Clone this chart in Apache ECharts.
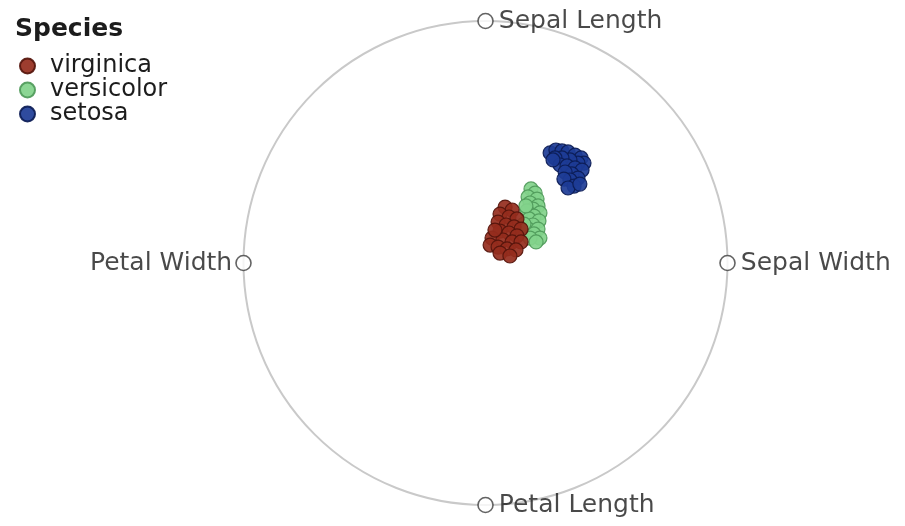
<!DOCTYPE html>
<html>
<head>
<meta charset="utf-8">
<script src="https://cdn.jsdelivr.net/npm/echarts@6/dist/echarts.min.js"></script>
<style>
  html, body { margin: 0; padding: 0; background: #fff; }
  #chart { width: 905px; height: 526px; }
</style>
</head>
<body>
<div id="chart"></div>
<script>
// RadViz projection of the iris measurements: each flower sits at the
// weighted pull of the four dimension anchors placed on the unit circle.
const anchorNames = ['Sepal Length', 'Sepal Width', 'Petal Length', 'Petal Width'];
const anchorPos = [[0, 1], [1, 0], [0, -1], [-1, 0]];

const setosa = [
  [0.267, 0.455], [0.291, 0.467], [0.316, 0.463], [0.341, 0.459], [0.370, 0.446],
  [0.395, 0.434], [0.407, 0.413], [0.382, 0.413], [0.349, 0.426], [0.316, 0.434],
  [0.287, 0.434], [0.308, 0.405], [0.337, 0.401], [0.370, 0.393], [0.399, 0.384],
  [0.357, 0.368], [0.329, 0.376], [0.382, 0.351], [0.349, 0.343], [0.324, 0.347],
  [0.366, 0.318], [0.341, 0.310], [0.390, 0.326], [0.279, 0.426]
];
const versicolor = [
  [0.188, 0.306], [0.205, 0.289], [0.176, 0.273], [0.213, 0.264], [0.184, 0.248],
  [0.217, 0.236], [0.196, 0.223], [0.171, 0.215], [0.225, 0.207], [0.200, 0.194],
  [0.180, 0.182], [0.221, 0.174], [0.196, 0.157], [0.176, 0.140], [0.217, 0.140],
  [0.200, 0.120], [0.225, 0.103], [0.184, 0.103], [0.209, 0.087], [0.159, 0.161],
  [0.167, 0.236]
];
const virginica = [
  [0.081, 0.231], [0.110, 0.219], [0.060, 0.202], [0.097, 0.190], [0.130, 0.182],
  [0.052, 0.169], [0.085, 0.157], [0.118, 0.149], [0.147, 0.140], [0.060, 0.132],
  [0.097, 0.124], [0.130, 0.112], [0.027, 0.103], [0.072, 0.095], [0.110, 0.087],
  [0.147, 0.087], [0.019, 0.074], [0.052, 0.066], [0.089, 0.058], [0.126, 0.054],
  [0.060, 0.041], [0.101, 0.029], [0.039, 0.136]
];

const FONT = 'DejaVu Sans';
const TEXT = '#1c1c1c';
const CX = 485.5, CY = 263, R = 242;

const chart = echarts.init(document.getElementById('chart'), null, { renderer: 'canvas' });

function pointSeries(name, data, fill, stroke) {
  return {
    name: name,
    type: 'scatter',
    data: data,
    symbol: 'circle',
    symbolSize: 14,
    itemStyle: { color: fill, borderColor: stroke, borderWidth: 1.2, opacity: 0.92 },
    emphasis: { disabled: true },
    z: 3
  };
}

const anchorData = anchorNames.map(function (n, i) {
  const left = anchorPos[i][0] < 0;
  return {
    name: n,
    value: anchorPos[i],
    label: {
      show: true,
      formatter: n,
      position: left ? 'left' : 'right',
      distance: left ? 3 : 5
    }
  };
});

chart.setOption({
  animation: false,
  backgroundColor: '#ffffff',
  title: {
    text: 'Species',
    left: 15,
    top: 17,
    padding: 0,
    textStyle: { fontFamily: FONT, fontSize: 25, fontWeight: 'bold', color: TEXT }
  },
  legend: {
    orient: 'vertical',
    left: 19,
    top: 54,
    padding: 0,
    itemWidth: 15,
    itemHeight: 15,
    itemGap: 0,
    icon: 'circle',
    data: ['virginica', 'versicolor', 'setosa'],
    textStyle: {
      fontFamily: FONT, fontSize: 24, color: TEXT,
      lineHeight: 23.5, padding: [0, 0, 0, 10]
    }
  },
  polar: { center: [CX, CY], radius: R },
  angleAxis: {
    type: 'value', min: 0, max: 360, startAngle: 90,
    axisLine: { show: true, lineStyle: { color: '#c9c9c9', width: 2 } },
    axisTick: { show: false }, axisLabel: { show: false }, splitLine: { show: false }
  },
  radiusAxis: { type: 'value', min: 0, max: 1, show: false },
  grid: { left: CX - R, top: CY - R, width: 2 * R, height: 2 * R },
  xAxis: { type: 'value', min: -1, max: 1, show: false },
  yAxis: { type: 'value', min: -1, max: 1, show: false },
  series: [
    {
      name: 'anchors',
      type: 'scatter',
      data: anchorData,
      symbol: 'circle',
      symbolSize: 15,
      itemStyle: { color: '#ffffff', borderColor: '#3c3c3c', borderWidth: 1.6 },
      label: { fontFamily: FONT, fontSize: 25, color: TEXT },
      emphasis: { disabled: true },
      silent: true,
      z: 4
    },
    pointSeries('setosa', setosa, '#1d3c96', '#0c1c55'),
    pointSeries('versicolor', versicolor, '#82d28b', '#4f9a5a'),
    pointSeries('virginica', virginica, '#952c1d', '#55150c')
  ]
});
</script>
</body>
</html>
